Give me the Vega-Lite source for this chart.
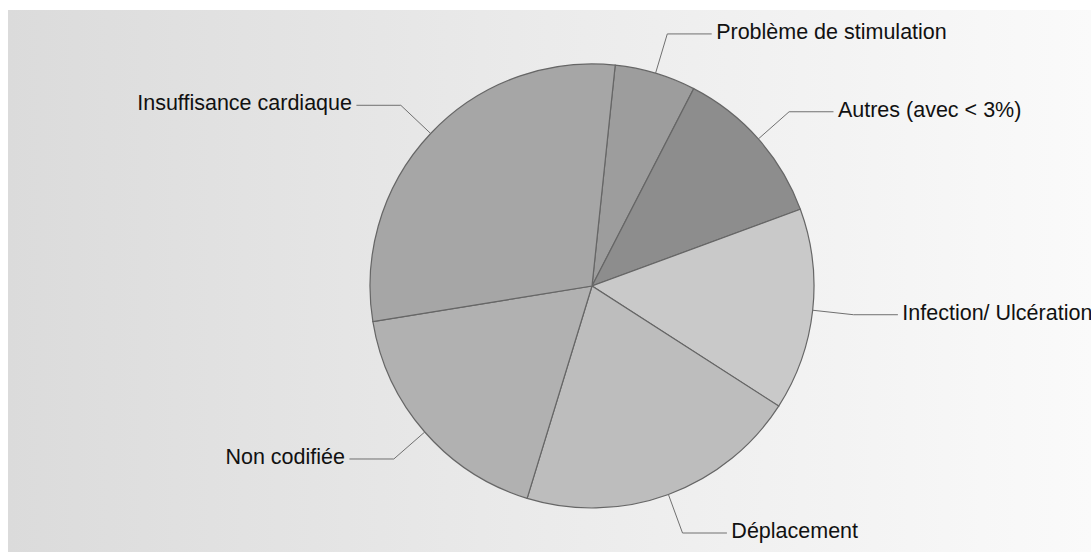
{
  "$schema": "https://vega.github.io/schema/vega-lite/v6.json",
  "width": 1091,
  "height": 552,
  "autosize": {"type": "fit", "contains": "padding"},
  "padding": {"left": 8, "top": 10, "right": 0, "bottom": 0},
  "background": "white",
  "config": {"view": {"stroke": null}},
  "layer": [
    {
      "data": {"values": [{}]},
      "mark": {
        "type": "rect",
        "color": {
          "gradient": "linear",
          "x1": 0, "y1": 0, "x2": 1, "y2": 0,
          "stops": [
            {"offset": 0, "color": "#dbdbdb"},
            {"offset": 0.5, "color": "#ebebeb"},
            {"offset": 1, "color": "#fafafa"}
          ]
        }
      },
      "encoding": {}
    },
    {
      "data": {
        "values": [
          {"label": "Problème de stimulation", "value": 5.9, "order": 1},
          {"label": "Autres (avec < 3%)", "value": 11.8, "order": 2},
          {"label": "Infection/ Ulcération", "value": 14.7, "order": 3},
          {"label": "Déplacement", "value": 20.6, "order": 4},
          {"label": "Non codifiée", "value": 17.7, "order": 5},
          {"label": "Insuffisance cardiaque", "value": 29.2, "order": 6}
        ]
      },
      "transform": [
        {"joinaggregate": [{"op": "sum", "field": "value", "as": "total"}]},
        {"window": [{"op": "sum", "field": "value", "as": "cum"}], "sort": [{"field": "order"}], "frame": [null, 0]},
        {"calculate": "0.1047 + 2*PI*(datum.cum - datum.value/2)/datum.total", "as": "mid"},
        {"calculate": "sin(datum.mid)", "as": "ex"},
        {"calculate": "cos(datum.mid)", "as": "ey"},
        {"calculate": "1.185*datum.ex", "as": "kx"},
        {"calculate": "1.185*datum.ey", "as": "ky"},
        {"calculate": "datum.kx + (datum.ex >= 0 ? 0.2 : -0.2)", "as": "hx"},
        {"calculate": "datum.hx + (datum.ex >= 0 ? 0.02 : -0.02)", "as": "tx"}
      ],
      "encoding": {
        "x": {"type": "quantitative", "scale": {"domain": [-2.6306, 2.2477], "nice": false, "zero": false}, "axis": null},
        "y": {"type": "quantitative", "scale": {"domain": [-1.1982, 1.2432], "nice": false, "zero": false}, "axis": null}
      },
      "layer": [
        {
          "mark": {"type": "arc", "outerRadius": 222, "stroke": "#666666", "strokeWidth": 1.2},
          "encoding": {
            "x": {"datum": 0, "type": "quantitative"},
            "y": {"datum": 0, "type": "quantitative"},
            "theta": {"field": "value", "type": "quantitative", "stack": true, "scale": {"range": [0.1047, 6.3879]}},
            "order": {"field": "order"},
            "color": {
              "field": "label",
              "type": "nominal",
              "legend": null,
              "scale": {
                "domain": ["Problème de stimulation", "Autres (avec < 3%)", "Infection/ Ulcération", "Déplacement", "Non codifiée", "Insuffisance cardiaque"],
                "range": ["#9d9d9d", "#8d8d8d", "#c9c9c9", "#bdbdbd", "#b1b1b1", "#a6a6a6"]
              }
            }
          }
        },
        {
          "mark": {"type": "rule", "color": "#707070", "strokeWidth": 1},
          "encoding": {
            "x": {"field": "ex", "type": "quantitative"},
            "y": {"field": "ey", "type": "quantitative"},
            "x2": {"field": "kx"},
            "y2": {"field": "ky"}
          }
        },
        {
          "mark": {"type": "rule", "color": "#707070", "strokeWidth": 1},
          "encoding": {
            "x": {"field": "kx", "type": "quantitative"},
            "y": {"field": "ky", "type": "quantitative"},
            "x2": {"field": "hx"},
            "y2": {"field": "ky"}
          }
        },
        {
          "transform": [{"filter": "datum.ex >= 0"}],
          "mark": {"type": "text", "align": "left", "baseline": "middle", "font": "Liberation Sans", "fontSize": 21.5, "color": "#111111", "dy": -1},
          "encoding": {
            "x": {"field": "tx", "type": "quantitative"},
            "y": {"field": "ky", "type": "quantitative"},
            "text": {"field": "label"}
          }
        },
        {
          "transform": [{"filter": "datum.ex < 0"}],
          "mark": {"type": "text", "align": "right", "baseline": "middle", "font": "Liberation Sans", "fontSize": 21.5, "color": "#111111", "dy": -1},
          "encoding": {
            "x": {"field": "tx", "type": "quantitative"},
            "y": {"field": "ky", "type": "quantitative"},
            "text": {"field": "label"}
          }
        }
      ]
    }
  ]
}
